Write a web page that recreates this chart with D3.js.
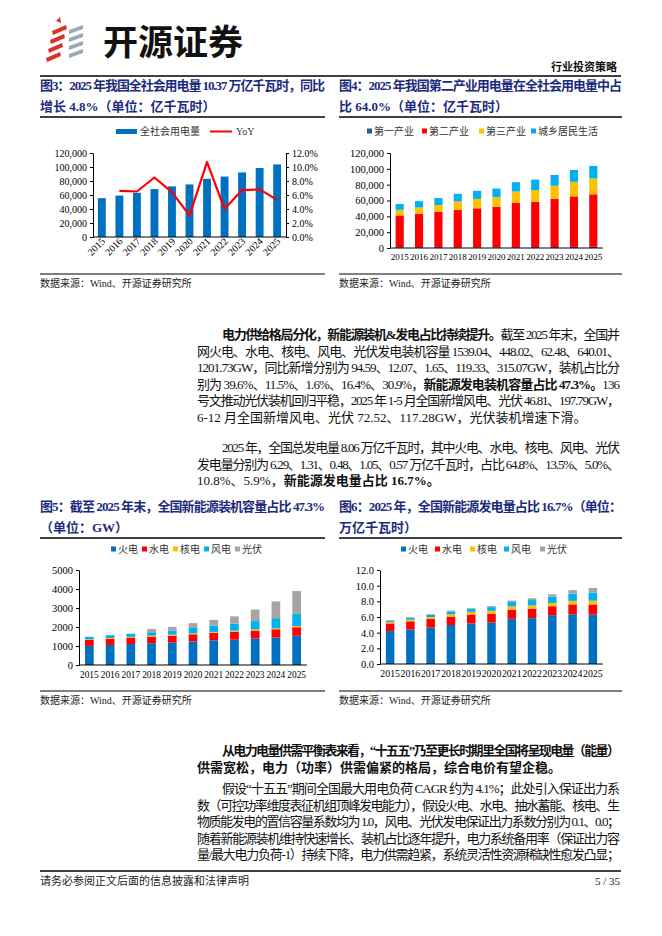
<!DOCTYPE html>
<html><head><meta charset="utf-8">
<script src="https://d3js.org/d3.v7.min.js"></script>
<style>body{margin:0;background:#fff}svg{display:block}</style>
</head><body>
<svg id="page" width="662" height="936"></svg>
<script>
// ---------------- DATA ----------------
const years = ["2015","2016","2017","2018","2019","2020","2021","2022","2023","2024","2025"];

// Fig 3: total electricity consumption (亿千瓦时) and YoY
const totalUse = [55500,59198,63077,68449,72255,75110,83128,86372,92241,98521,103682];
const yoyGrowth = [null,0.066,0.065,0.085,0.064,0.031,0.107,0.040,0.067,0.068,0.053];

// Fig 4: consumption by sector (亿千瓦时)
const primaryInd   = [1020,1075,1155,728,780,859,1023,1146,1278,1357,1494];
const secondaryInd = [40046,42108,44413,47235,49362,51215,56131,57001,60745,63874,66366];
const tertiaryInd  = [7158,7961,8814,10801,11863,12087,14231,14859,16694,18348,19942];
const residential  = [7276,8054,8695,9685,10250,10949,11743,13366,13524,14942,15880];

// Fig 5: installed capacity (GW)
const capThermal = [1006,1054,1106,1144,1190,1245,1297,1332,1390,1444,1539];
const capHydro   = [319,332,341,352,356,370,391,414,422,436,448];
const capNuclear = [27,34,36,45,49,50,53,56,57,61,62];
const capWind    = [131,149,164,184,210,282,328,365,441,521,640];
const capSolar   = [0,0,0,174,204,253,306,393,609,887,1202];

// Fig 6: generation (万亿千瓦时)
const genThermal = [4.20,4.39,4.66,4.98,5.17,5.28,5.77,5.85,6.23,6.34,6.29];
const genHydro   = [0.98,1.06,1.08,1.08,1.13,1.14,1.17,1.20,1.14,1.27,1.31];
const genNuclear = [0.17,0.21,0.25,0.29,0.35,0.37,0.41,0.42,0.43,0.45,0.48];
const genWind    = [0.19,0.24,0.29,0.37,0.36,0.47,0.56,0.69,0.81,0.94,1.05];
const genSolar   = [0.04,0.07,0.08,0.09,0.12,0.13,0.18,0.23,0.29,0.43,0.57];

const sectorNames = ["第一产业","第二产业","第三产业","城乡居民生活"];
const powerNames  = ["火电","水电","核电","风电","光伏"];

const fig3Ticks = [0,20000,40000,60000,80000,100000,120000];
const fig3RTicks = [0,0.02,0.04,0.06,0.08,0.10,0.12];
const fig5Ticks = [0,1000,2000,3000,4000,5000];
const fig6Ticks = [0,2,4,6,8,10,12];

const titles = {
  f3: ["图3：2025 年我国全社会用电量 10.37 万亿千瓦时，同比", "增长 4.8%（单位：亿千瓦时）"],
  f4: ["图4：2025 年我国第二产业用电量在全社会用电量中占", "比 64.0%（单位：亿千瓦时）"],
  f5: ["图5：截至 2025 年末，全国新能源装机容量占比 47.3%", "（单位：GW）"],
  f6: ["图6：2025 年，全国新能源发电量占比 16.7%（单位：", "万亿千瓦时）"]
};
const sourceText = "数据来源：Wind、开源证券研究所";

// body paragraphs: each line = list of [text, bold]
const para1 = [
  {indent:true, just:true, segs:[["电力供给格局分化，新能源装机&发电占比持续提升。",1],["截至 2025 年末，全国并",0]]},
  {just:true, segs:[["网火电、水电、核电、风电、光伏发电装机容量 1539.04、448.02、62.48、640.01、",0]]},
  {just:true, segs:[["1201.73GW，同比新增分别为 94.59、12.07、1.65、119.33、315.07GW，装机占比分",0]]},
  {just:true, segs:[["别为 39.6%、11.5%、1.6%、16.4%、30.9%，",0],["新能源发电装机容量占比 47.3%。",1],["136",0]]},
  {just:true, segs:[["号文推动光伏装机回归平稳，2025 年 1-5 月全国新增风电、光伏 46.81、197.79GW，",0]]},
  {just:false, segs:[["6-12 月全国新增风电、光伏 72.52、117.28GW，光伏装机增速下滑。",0]]}
];
const para2 = [
  {indent:true, just:true, segs:[["2025 年，全国总发电量 8.06 万亿千瓦时，其中火电、水电、核电、风电、光伏",0]]},
  {just:true, segs:[["发电量分别为 6.29、1.31、0.48、1.05、0.57 万亿千瓦时，占比 64.8%、13.5%、5.0%、",0]]},
  {just:false, segs:[["10.8%、5.9%，",0],["新能源发电量占比 16.7%。",1]]}
];
const para3 = [
  {indent:true, just:true, segs:[["从电力电量供需平衡表来看，“十五五”乃至更长时期里全国将呈现电量（能量）",1]]},
  {just:false, segs:[["供需宽松，电力（功率）供需偏紧的格局，综合电价有望企稳。",1]]}
];
const para4 = [
  {indent:true, just:true, segs:[["假设“十五五”期间全国最大用电负荷 CAGR 约为 4.1%；此处引入保证出力系",0]]},
  {just:true, segs:[["数（可控功率维度表征机组顶峰发电能力），假设火电、水电、抽水蓄能、核电、生",0]]},
  {just:true, segs:[["物质能发电的置信容量系数均为 1.0，风电、光伏发电保证出力系数分别为 0.1、0.0；",0]]},
  {just:true, segs:[["随着新能源装机维持快速增长、装机占比逐年提升，电力系统备用率（保证出力容",0]]},
  {just:true, segs:[["量/最大电力负荷-1）持续下降，电力供需趋紧，系统灵活性资源稀缺性愈发凸显；",0]]}
];

// ---------------- STYLE ----------------
const FONT = "'Liberation Serif','Noto Sans CJK SC',serif";
const CJK = "'Noto Sans CJK SC','Liberation Serif',sans-serif";
const NAVY = "#1d2b7d";
const C = {blue:"#0070c0", red:"#ff0000", gold:"#ffc000", cyan:"#00b0f0", gray:"#a5a5a5", dblue:"#1f5f9f"};

const svg = d3.select("#page");

// ---------------- HEADER ----------------
const logo = svg.append("g");
[[52,25],[50,34],[48,43],[46,52]].forEach(([x,y])=>{
  logo.append("path").attr("d",`M${x},${y+6} L${x+14},${y} L${x+15},${y+4} L${x+1},${y+10} Z`).attr("fill","#d9322a");
});
[[69,25],[69,33],[69,41],[69,49]].forEach(([x,y])=>{
  logo.append("path").attr("d",`M${x},${y+5} L${x+14},${y} L${x+14},${y+4} L${x},${y+9} Z`).attr("fill","#9aabb8");
});
logo.append("path").attr("d","M56,21 L60,17 L61,23 Z").attr("fill","#d9322a");
svg.append("text").attr("x",103).attr("y",55).attr("font-family",CJK).attr("font-weight",700)
  .attr("font-size",35).attr("fill","#111").text("开源证券");
svg.append("text").attr("x",617).attr("y",71).attr("text-anchor","end").attr("font-family",CJK)
  .attr("font-weight",700).attr("font-size",11).attr("fill","#111").text("行业投资策略");
svg.append("line").attr("x1",40).attr("x2",621).attr("y1",76).attr("y2",76).attr("stroke","#000").attr("stroke-width",1.3);

// ---------------- HELPERS ----------------
function drawTitle(lines, x, w, y) {
  lines.forEach((t,i)=>{
    const el = svg.append("text").attr("x",x).attr("y",y+i*21).attr("font-family",FONT)
      .attr("font-weight",700).attr("font-size",13).attr("fill",NAVY).text(t);
    if (i===0) el.attr("textLength",w).attr("lengthAdjust","spacing");
  });
  svg.append("line").attr("x1",x).attr("x2",x+w).attr("y1",y+27).attr("y2",y+27).attr("stroke","#000").attr("stroke-width",1.5);
}
function drawSource(x, w, y) {
  svg.append("line").attr("x1",x).attr("x2",x+w).attr("y1",y).attr("y2",y).attr("stroke","#000").attr("stroke-width",1.2);
  svg.append("text").attr("x",x).attr("y",y+13).attr("font-family",FONT).attr("font-size",10).attr("fill","#222").text(sourceText);
}
function legendSquares(names, colors, xs, y, size) {
  names.forEach((n,i)=>{
    svg.append("rect").attr("x",xs[i]).attr("y",y-size/2).attr("width",size).attr("height",size).attr("fill",colors[i]);
    svg.append("text").attr("x",xs[i]+size+2).attr("y",y+3.5).attr("font-family",FONT).attr("font-size",10).attr("fill","#333").text(n);
  });
}
function styleAxis(g) {
  g.selectAll("path,line").attr("stroke","#000").attr("stroke-width",1);
  g.selectAll("text").attr("font-family",FONT).attr("font-size",10).attr("fill","#000");
}
function stackedChart(series, colors, opts) {
  const x = d3.scaleBand().domain(years).range([opts.x0, opts.x1]).paddingInner(0.58).paddingOuter(0.29);
  const y = d3.scaleLinear().domain([0, opts.ymax]).range([opts.yb, opts.yt]);
  const rows = years.map((yr,i)=>{ const o={year:yr}; series.forEach((s,k)=>o["s"+k]=s[i]); return o; });
  const stack = d3.stack().keys(series.map((s,k)=>"s"+k))(rows);
  const g = svg.append("g");
  stack.forEach((layer,k)=>{
    g.selectAll(null).data(layer).enter().append("rect")
      .attr("x",d=>x(d.data.year)).attr("width",x.bandwidth())
      .attr("y",d=>y(d[1])).attr("height",d=>Math.max(0,y(d[0])-y(d[1])))
      .attr("fill",colors[k]);
  });
  const ya = svg.append("g").attr("transform",`translate(${opts.x0},0)`)
    .call(d3.axisLeft(y).tickValues(opts.ticks).tickFormat(opts.fmt).tickSize(3).tickSizeOuter(0));
  styleAxis(ya);
  ya.selectAll("text").attr("font-size",10.5);
  const xa = svg.append("g").attr("transform",`translate(0,${opts.yb})`)
    .call(d3.axisBottom(x).tickSize(0).tickPadding(opts.pad||7));
  styleAxis(xa);
  xa.selectAll("text").attr("font-size",opts.xfs||10);
  xa.select(".domain").attr("d",`M${opts.x0},0H${opts.x1}`);
}
function bodyLines(lines, y0) {
  lines.forEach((ln,i)=>{
    const x = ln.indent ? 222 : 197;
    const t = svg.append("text").attr("x",x).attr("y",y0+i*16.6).attr("font-family",FONT)
      .attr("font-size",13).attr("fill","#111");
    ln.segs.forEach(([s,b])=>t.append("tspan").attr("font-weight",b?700:400).text(s));
    if (ln.just) t.attr("textLength",620-x).attr("lengthAdjust","spacing");
  });
}

// ---------------- FIG 3 ----------------
drawTitle(titles.f3, 40, 285, 90);
svg.append("rect").attr("x",116).attr("y",129).attr("width",21).attr("height",5).attr("fill",C.blue);
svg.append("text").attr("x",140).attr("y",134.5).attr("font-family",FONT).attr("font-size",10).attr("fill","#333").text("全社会用电量");
svg.append("line").attr("x1",210).attr("x2",232).attr("y1",131.5).attr("y2",131.5).attr("stroke",C.red).attr("stroke-width",2);
svg.append("text").attr("x",236).attr("y",135).attr("font-family",FONT).attr("font-size",10).attr("fill","#333").text("YoY");
{
  const x0=93, x1=286, yb=237, yt=153;
  const x = d3.scaleBand().domain(years).range([x0,x1]).paddingInner(0.55).paddingOuter(0.28);
  const y = d3.scaleLinear().domain([0,120000]).range([yb,yt]);
  const yr = d3.scaleLinear().domain([0,0.12]).range([yb,yt]);
  svg.append("g").selectAll("rect").data(totalUse).enter().append("rect")
    .attr("x",(d,i)=>x(years[i])).attr("width",x.bandwidth())
    .attr("y",d=>y(d)).attr("height",d=>yb-y(d)).attr("fill",C.blue);
  const line = d3.line().defined(d=>d.v!=null).x(d=>x(d.yr)+x.bandwidth()/2).y(d=>yr(d.v));
  svg.append("path").datum(years.map((yv,i)=>({yr:yv,v:yoyGrowth[i]}))).attr("d",line)
    .attr("fill","none").attr("stroke",C.red).attr("stroke-width",2.2).attr("stroke-linejoin","round");
  const la = svg.append("g").attr("transform",`translate(${x0},0)`)
    .call(d3.axisLeft(y).tickValues(fig3Ticks).tickFormat(d3.format(",")).tickSize(3).tickSizeOuter(0));
  styleAxis(la);
  const ra = svg.append("g").attr("transform",`translate(${x1},0)`)
    .call(d3.axisRight(yr).tickValues(fig3RTicks).tickFormat(d3.format(".1%")).tickSize(3).tickSizeOuter(0));
  styleAxis(ra);
  const ba = svg.append("g").attr("transform",`translate(0,${yb})`)
    .call(d3.axisBottom(x).tickSize(0).tickPadding(0));
  styleAxis(ba);
  ba.select(".domain").attr("d",`M${x0},0H${x1}`);
  ba.selectAll(".tick text").attr("text-anchor","end").attr("dy",0)
    .attr("transform","translate(4,5) rotate(-45)");
}
drawSource(40, 285, 274);

// ---------------- FIG 4 ----------------
drawTitle(titles.f4, 339, 283, 90);
legendSquares(sectorNames, [C.dblue,C.red,C.gold,C.cyan], [367,422,479,531], 131, 5);
stackedChart([primaryInd,secondaryInd,tertiaryInd,residential],[C.dblue,C.red,C.gold,C.cyan],
  {x0:390,x1:603,yb:248,yt:153,ymax:120000,ticks:fig3Ticks,fmt:d3.format(","),pad:6,xfs:9});
drawSource(339, 283, 274);

// ---------------- BODY 1 ----------------
bodyLines(para1, 339);
bodyLines(para2, 452);

// ---------------- FIG 5 ----------------
drawTitle(titles.f5, 40, 285, 511);
legendSquares(powerNames, [C.blue,C.red,C.gold,C.cyan,C.gray], [111,142,173,204,235], 549, 5);
stackedChart([capThermal,capHydro,capNuclear,capWind,capSolar],[C.blue,C.red,C.gold,C.cyan,C.gray],
  {x0:79,x1:307,yb:665,yt:570,ymax:5000,ticks:fig5Ticks,fmt:d3.format("d"),pad:6,xfs:9.4});
drawSource(40, 285, 691);

// ---------------- FIG 6 ----------------
drawTitle(titles.f6, 339, 283, 511);
legendSquares(powerNames, [C.blue,C.red,C.gold,C.cyan,C.gray], [401,435,470,504,540], 549, 5);
stackedChart([genThermal,genHydro,genNuclear,genWind,genSolar],[C.blue,C.red,C.gold,C.cyan,C.gray],
  {x0:380,x1:603,yb:664,yt:570,ymax:12,ticks:fig6Ticks,fmt:d3.format(".1f"),pad:6,xfs:9.8});
drawSource(339, 283, 691);

// ---------------- BODY 2 ----------------
bodyLines(para3, 755);
bodyLines(para4, 793);

// ---------------- FOOTER ----------------
svg.append("line").attr("x1",40).attr("x2",621).attr("y1",871).attr("y2",871).attr("stroke","#000").attr("stroke-width",1.3);
svg.append("text").attr("x",40).attr("y",885).attr("font-family",FONT).attr("font-size",11).attr("fill","#222").text("请务必参阅正文后面的信息披露和法律声明");
svg.append("text").attr("x",620).attr("y",885).attr("text-anchor","end").attr("font-family",FONT).attr("font-size",11).attr("fill","#222").text("5 / 35");
</script>
</body></html>
